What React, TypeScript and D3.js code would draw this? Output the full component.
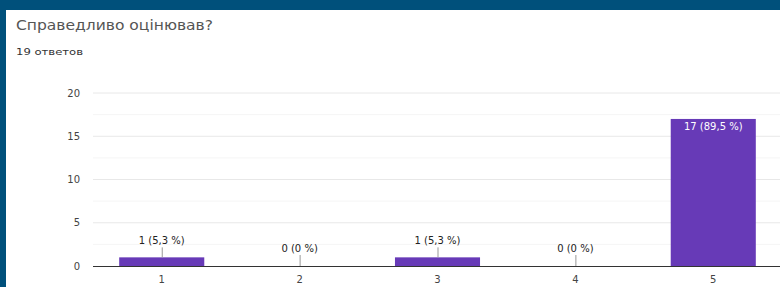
import React, { useRef, useEffect } from "react";
import * as d3 from "d3";

const categories = ["1", "2", "3", "4", "5"];
const counts = [1, 0, 1, 0, 17];
const percents = ["5,3", "0", "5,3", "0", "89,5"];
const yTicks = [0, 5, 10, 15, 20];
const total = 19;

const W = 780;
const H = 287;
const margin = { left: 93, right: -2, top: 93, bottom: 21 };
const chartFont = "'DejaVu Sans', Arial, sans-serif";

function App() {
  const svgRef = useRef<SVGSVGElement | null>(null);

  useEffect(() => {
    const svg = d3.select(svgRef.current);
    svg.selectAll("*").remove();

    // page background + white card
    svg.append("rect").attr("width", W).attr("height", H).attr("fill", "#00507b");
    svg.append("rect").attr("x", 6).attr("y", 10).attr("width", W - 6).attr("height", H - 10).attr("fill", "#fff");

    svg.append("text")
      .attr("x", 16).attr("y", 30)
      .attr("font-family", chartFont)
      .attr("font-size", 14)
      .attr("textLength", 197)
      .attr("lengthAdjust", "spacingAndGlyphs")
      .attr("fill", "#555")
      .text("Справедливо оцінював?");

    svg.append("text")
      .attr("x", 16).attr("y", 55)
      .attr("font-family", chartFont)
      .attr("font-size", 9.5)
      .attr("textLength", 67)
      .attr("lengthAdjust", "spacingAndGlyphs")
      .attr("fill", "#333")
      .text(total + " ответов");

    const x = d3.scaleBand()
      .domain(categories)
      .range([margin.left, W - margin.right])
      .paddingInner(0.383)
      .paddingOuter(0.19);

    const y = d3.scaleLinear()
      .domain([0, 20])
      .range([H - margin.bottom, margin.top]);

    const g = svg.append("g");

    // minor gridlines
    g.selectAll("line.minor")
      .data(d3.range(2.5, 20, 5))
      .join("line")
      .attr("x1", margin.left).attr("x2", W)
      .attr("y1", d => y(d)).attr("y2", d => y(d))
      .attr("stroke", "#f5f5f5");

    // major gridlines
    g.selectAll("line.major")
      .data(yTicks.slice(1))
      .join("line")
      .attr("x1", margin.left).attr("x2", W)
      .attr("y1", d => y(d)).attr("y2", d => y(d))
      .attr("stroke", "#e8e8e8");

    // y labels
    g.selectAll("text.ytick")
      .data(yTicks)
      .join("text")
      .attr("x", 80).attr("y", d => y(d))
      .attr("dy", "0.35em")
      .attr("text-anchor", "end")
      .attr("font-family", chartFont)
      .attr("font-size", 10)
      .attr("fill", "#444")
      .text(d => d);

    // bars
    g.selectAll("rect.bar")
      .data(counts)
      .join("rect")
      .attr("x", (d, i) => x(categories[i])!)
      .attr("y", d => y(d))
      .attr("width", x.bandwidth())
      .attr("height", d => y(0) - y(d))
      .attr("fill", "#673ab7");

    // baseline
    g.append("line")
      .attr("x1", margin.left).attr("x2", W)
      .attr("y1", y(0) + 0.5).attr("y2", y(0) + 0.5)
      .attr("stroke", "#333");

    // x labels
    g.selectAll("text.xtick")
      .data(categories)
      .join("text")
      .attr("x", d => x(d)! + x.bandwidth() / 2)
      .attr("y", H - 4)
      .attr("text-anchor", "middle")
      .attr("font-family", chartFont)
      .attr("font-size", 10)
      .attr("fill", "#444")
      .text(d => d);

    // value labels
    counts.forEach((c, i) => {
      const cx = x(categories[i])! + x.bandwidth() / 2;
      const label = `${c} (${percents[i]} %)`;
      const inside = y(0) - y(c) > 30;
      if (inside) {
        g.append("text")
          .attr("x", cx).attr("y", y(c) + 11)
          .attr("text-anchor", "middle")
          .attr("font-family", chartFont)
          .attr("font-size", 10)
          .attr("fill", "#fff")
          .text(label);
      } else {
        const top = y(c);
        const lift = c === 0 ? 11 : 10;
        g.append("line")
          .attr("x1", cx + 0.5).attr("x2", cx + 0.5)
          .attr("y1", top).attr("y2", top - lift)
          .attr("stroke", "#999");
        g.append("text")
          .attr("x", cx).attr("y", top - lift - 3)
          .attr("text-anchor", "middle")
          .attr("font-family", chartFont)
          .attr("font-size", 10)
          .attr("fill", "#222")
          .text(label);
      }
    });
  }, []);

  return (
    <svg
      ref={svgRef}
      width={W}
      height={H}
      style={{ position: "absolute", left: 0, top: 0, display: "block" }}
    />
  );
}

export default App;
